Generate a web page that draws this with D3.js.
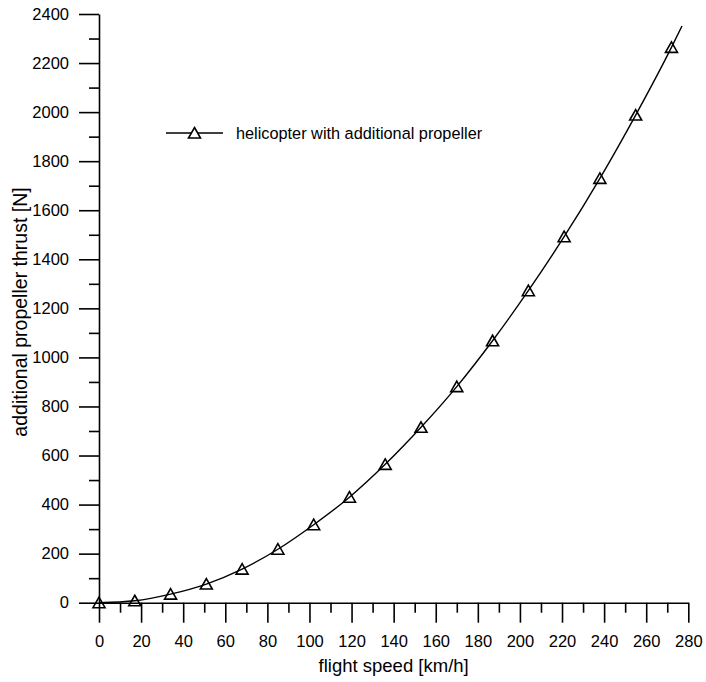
<!DOCTYPE html>
<html>
<head>
<meta charset="utf-8">
<script src="https://cdn.jsdelivr.net/npm/d3@7"></script>
<style>
  html, body { margin: 0; padding: 0; background: #fff; }
  svg { display: block; }
  text { font-family: "Liberation Sans", Arial, sans-serif; fill: #000; }
</style>
</head>
<body>
<svg id="chart" width="706" height="682"></svg>
<script>
// ---- data ----
const flightSpeed = [0, 17, 34, 51, 68, 85, 102, 119, 136, 153, 170, 187, 204, 221, 238, 255, 272];
const thrust      = [0, 8, 35, 76, 137, 218, 318, 430, 564, 715, 881, 1068, 1272, 1492, 1730, 1988, 2264];
// the plotted curve continues a little past the last marker
const curveEndSpeed = [277];
const curveEndThrust = [2351];
const xTicks = [0, 20, 40, 60, 80, 100, 120, 140, 160, 180, 200, 220, 240, 260, 280];
const yTicks = [0, 200, 400, 600, 800, 1000, 1200, 1400, 1600, 1800, 2000, 2200, 2400];
const xMinorTicks = [10, 30, 50, 70, 90, 110, 130, 150, 170, 190, 210, 230, 250, 270];
const yMinorTicks = [100, 300, 500, 700, 900, 1100, 1300, 1500, 1700, 1900, 2100, 2300];
const seriesName = "helicopter with additional propeller";
const xTitle = "flight speed [km/h]";
const yTitle = "additional propeller thrust [N]";

// ---- layout ----
const svg = d3.select("#chart");
const mLeft = 99, mTop = 14, mRight = 688.3, mBottom = 602.7;
const x = d3.scaleLinear().domain([0, 280]).range([mLeft, mRight]);
const y = d3.scaleLinear().domain([0, 2400]).range([mBottom, mTop]);

const fontTick = "16.5px";

// x axis (major)
svg.append("g").attr("transform", `translate(0,${mBottom})`)
  .call(d3.axisBottom(x).tickValues(xTicks).tickFormat(d3.format("d"))
    .tickSize(20).tickSizeOuter(0).tickPadding(13));
// x minor
svg.append("g").attr("transform", `translate(0,${mBottom})`)
  .call(d3.axisBottom(x).tickValues(xMinorTicks).tickFormat("").tickSize(10).tickSizeOuter(0))
  .select(".domain").remove();

// y axis (major)
svg.append("g").attr("transform", `translate(${mLeft},0)`)
  .call(d3.axisLeft(y).tickValues(yTicks).tickFormat(d3.format("d"))
    .tickSize(20).tickSizeOuter(0).tickPadding(10));
svg.append("g").attr("transform", `translate(${mLeft},0)`)
  .call(d3.axisLeft(y).tickValues(yMinorTicks).tickFormat("").tickSize(10).tickSizeOuter(0))
  .select(".domain").remove();

svg.selectAll(".domain, .tick line").attr("stroke", "#000").attr("stroke-width", 1.6);
svg.selectAll(".tick text").style("font-size", fontTick)
  .style("font-family", "'Liberation Sans', Arial, sans-serif").attr("fill", "#000");

// axis titles
svg.append("text").attr("x", (mLeft + mRight) / 2).attr("y", 672)
  .attr("text-anchor", "middle").style("font-size", "18.5px").text(xTitle);
svg.append("text")
  .attr("transform", `translate(27,312) rotate(-90)`)
  .attr("text-anchor", "middle").style("font-size", "19.5px").text(yTitle);

// curve
const pts = flightSpeed.map((s, i) => [s, thrust[i]]);
const curvePts = pts.concat(curveEndSpeed.map((s, i) => [s, curveEndThrust[i]]));
const line = d3.line().x(d => x(d[0])).y(d => y(d[1])).curve(d3.curveMonotoneX);
svg.append("path").datum(curvePts).attr("d", line)
  .attr("fill", "none").attr("stroke", "#000").attr("stroke-width", 1.4);

// triangle markers
const tri = "M0,-5.5L6,5L-6,5Z";
svg.append("g").selectAll("path").data(pts).join("path")
  .attr("transform", d => `translate(${x(d[0])},${y(d[1])})`)
  .attr("d", tri).attr("fill", "none").attr("stroke", "#000").attr("stroke-width", 1.6);

// legend
const lg = svg.append("g");
lg.append("line").attr("x1", 166).attr("x2", 223).attr("y1", 133).attr("y2", 133)
  .attr("stroke", "#000").attr("stroke-width", 1.4);
lg.append("path").attr("transform", "translate(194.5,133)").attr("d", tri)
  .attr("fill", "#fff").attr("stroke", "#000").attr("stroke-width", 1.6);
lg.append("text").attr("x", 236).attr("y", 139).style("font-size", "16.3px").text(seriesName);
</script>
</body>
</html>
